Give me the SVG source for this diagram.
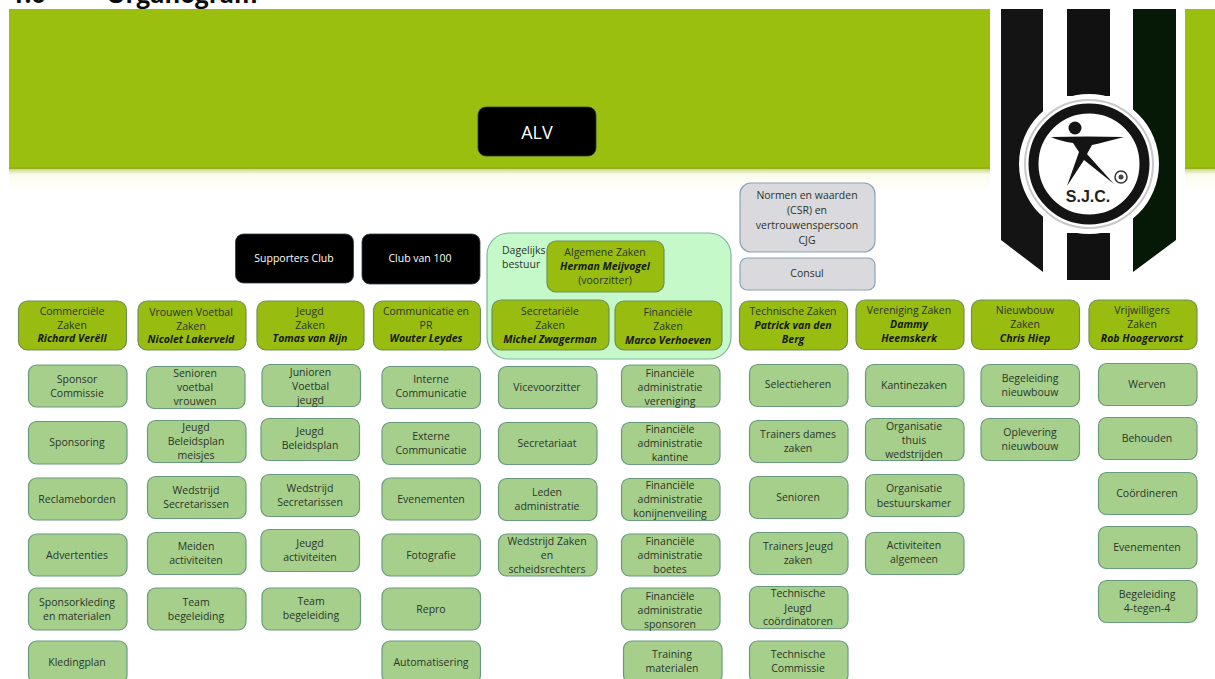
<svg xmlns="http://www.w3.org/2000/svg" width="1215" height="679" viewBox="0 0 1215 679">
<style>
text{font-family:"Open Sans","Noto Sans","Liberation Sans",sans-serif;font-size:10.5px;fill:#2a352a;text-anchor:middle}
.h{fill:#99BC10;stroke:#6f8f5c;stroke-width:1.2}
.s{fill:#A6CF8C;stroke:#6a9a7e;stroke-width:1.2}
.k{fill:#000;stroke:#2c3a48;stroke-width:.8}
.g{fill:#D9D9DE;stroke:#8aa3b5;stroke-width:1.2}
.n{font-weight:700;font-style:italic;fill:#141a10}
.t{font-size:24px;font-weight:700;fill:#0a0a0a}
</style>
<defs>
<linearGradient id="fade" x1="0" y1="0" x2="0" y2="1"><stop offset="0" stop-color="#c9d98a"/><stop offset=".25" stop-color="#fbfcec"/><stop offset="1" stop-color="#fff"/></linearGradient>
</defs>
<text id="title-num" class="t" x="28" y="3">1.6</text>
<text id="title" class="t" x="182" y="3">Organogram</text>
<g id="banner">
<rect x="9" y="9" width="981" height="159" fill="#9ABF0F"/>
<rect x="1185" y="9" width="30" height="159" fill="#9ABF0F"/>
<rect x="9" y="167" width="981" height="2" fill="#96AE1E"/>
<rect x="1185" y="167" width="30" height="2" fill="#96AE1E"/>
<rect x="9" y="169" width="981" height="22" fill="url(#fade)"/>
<rect x="1185" y="169" width="30" height="22" fill="url(#fade)"/>
</g>
<g id="logo">
<path d="M1001 9H1043V272L1001 240Z" fill="#141414"/>
<path d="M1067 9H1110V96H1067Z" fill="#111"/>
<path d="M1067 233H1110V280H1067Z" fill="#111"/>
<path d="M1133 9H1176V240L1133 272Z" fill="#061806"/>
<circle cx="1089" cy="164" r="70" fill="#fff"/>
<circle cx="1089" cy="164" r="64" fill="none" stroke="#c8c8c8" stroke-width="2"/>
<circle cx="1089" cy="164" r="55.500" fill="#fff" stroke="#141414" stroke-width="10"/>
<circle cx="1075" cy="128" r="6.500" fill="#141414"/>
<path d="M1051 137Q1088 136 1124 137Q1105 142 1092 145L1087 154L1114 184L1084 160L1067 186L1079 152L1073 143Q1060 141 1051 137Z" fill="#141414"/>
<circle cx="1121" cy="177" r="6" fill="#fff" stroke="#333" stroke-width="1.500"/>
<circle cx="1121" cy="177" r="2.500" fill="#444"/>
<text x="1088" y="202" style="font-family:'Liberation Sans',sans-serif;font-size:16px;font-weight:700;fill:#222">S.J.C.</text>
</g>
<g id="alv"><rect class="k" x="478" y="107" width="118" height="49" rx="8"/><text x="537" y="139" style="font-size:18px;fill:#fff">ALV</text></g>
<g id="supporters-club"><rect class="k" x="235.500" y="234" width="118" height="49" rx="8"/><text x="294" y="262" style="fill:#fff">Supporters Club</text></g>
<g id="club-van-100"><rect class="k" x="362" y="234" width="118" height="50" rx="8"/><text x="420" y="262" style="fill:#fff">Club van 100</text></g>
<g id="dagelijks-bestuur"><rect x="487" y="233" width="244" height="126" rx="22" fill="#C6F9C9" stroke="#7fb3a2" stroke-width="1.200"/><text x="502" y="254" style="text-anchor:start">Dagelijks<tspan x="502" dy="14">bestuur</tspan></text></g>
<g id="algemene-zaken"><rect class="h" x="547" y="241" width="117" height="51" rx="9"/><text x="605" y="256">Algemene Zaken</text><text class="n" x="605" y="270">Herman Meijvogel</text><text x="605" y="284">(voorzitter)</text></g>
<g id="normen"><rect class="g" x="740" y="183" width="135" height="69" rx="11"/><text x="807" y="199">Normen en waarden<tspan x="807" dy="15">(CSR) en</tspan><tspan x="807" dy="15">vertrouwenspersoon</tspan><tspan x="807" dy="15">CJG</tspan></text></g>
<g id="consul"><rect class="g" x="740" y="258" width="135" height="32" rx="7"/><text x="807" y="277">Consul</text></g>

<g id="commerciele-zaken"><rect class="h" x="18.500" y="301" width="108" height="49" rx="9"/><text x="72" y="315">Commerciële<tspan x="72" dy="14">Zaken</tspan></text><text class="n" x="72" y="342">Richard Verëll</text></g>
<g id="vrouwen-voetbal-zaken"><rect class="h" x="138" y="301" width="108" height="49" rx="9"/><text x="191" y="316">Vrouwen Voetbal<tspan x="191" dy="14">Zaken</tspan></text><text class="n" x="191" y="343">Nicolet Lakerveld</text></g>
<g id="jeugd-zaken"><rect class="h" x="257" y="301" width="107" height="49" rx="9"/><text x="310" y="315">Jeugd<tspan x="310" dy="14">Zaken</tspan></text><text class="n" x="310" y="342">Tomas van Rijn</text></g>
<g id="communicatie-pr"><rect class="h" x="373.500" y="301" width="107" height="49" rx="9"/><text x="426" y="315">Communicatie en<tspan x="426" dy="14">PR</tspan></text><text class="n" x="426" y="342">Wouter Leydes</text></g>
<g id="secretariele-zaken"><rect class="h" x="492" y="300" width="117" height="50" rx="9"/><text x="550" y="315">Secretariële<tspan x="550" dy="14">Zaken</tspan></text><text class="n" x="550" y="343">Michel Zwagerman</text></g>
<g id="financiele-zaken"><rect class="h" x="615" y="301" width="107" height="49" rx="9"/><text x="668" y="316">Financiële<tspan x="668" dy="14">Zaken</tspan></text><text class="n" x="668" y="344">Marco Verhoeven</text></g>
<g id="technische-zaken"><rect class="h" x="739.500" y="301" width="108" height="49" rx="9"/><text x="793" y="315">Technische Zaken</text><text class="n" x="793" y="329">Patrick van den<tspan x="793" dy="14">Berg</tspan></text></g>
<g id="vereniging-zaken"><rect class="h" x="856" y="300" width="108" height="49.500" rx="9"/><text x="909" y="314">Vereniging Zaken</text><text class="n" x="909" y="328">Dammy<tspan x="909" dy="14">Heemskerk</tspan></text></g>
<g id="nieuwbouw-zaken"><rect class="h" x="971.500" y="300" width="108" height="49.500" rx="9"/><text x="1025" y="314">Nieuwbouw<tspan x="1025" dy="14">Zaken</tspan></text><text class="n" x="1025" y="342">Chris Hiep</text></g>
<g id="vrijwilligers-zaken"><rect class="h" x="1089" y="300" width="108" height="49.500" rx="9"/><text x="1142" y="314">Vrijwilligers<tspan x="1142" dy="14">Zaken</tspan></text><text class="n" x="1142" y="342">Rob Hoogervorst</text></g>

<g id="c1-1"><rect class="s" x="28.500" y="365" width="98.500" height="42" rx="8"/><text x="77" y="383">Sponsor<tspan x="77" dy="14">Commissie</tspan></text></g>
<g id="c1-2"><rect class="s" x="28.500" y="421.500" width="98.500" height="42.500" rx="8"/><text x="77" y="446">Sponsoring</text></g>
<g id="c1-3"><rect class="s" x="28.500" y="478" width="98.500" height="42" rx="8"/><text x="77" y="503">Reclameborden</text></g>
<g id="c1-4"><rect class="s" x="28.500" y="534" width="98.500" height="42" rx="8"/><text x="77" y="559">Advertenties</text></g>
<g id="c1-5"><rect class="s" x="28.500" y="588" width="98.500" height="42" rx="8"/><text x="77" y="606">Sponsorkleding<tspan x="77" dy="14">en materialen</tspan></text></g>
<g id="c1-6"><rect class="s" x="28.500" y="641" width="98.500" height="42" rx="8"/><text x="77" y="666">Kledingplan</text></g>

<g id="c2-1"><rect class="s" x="146.500" y="366.500" width="98.500" height="42" rx="8"/><text x="195" y="377">Senioren<tspan x="195" dy="14">voetbal</tspan><tspan x="195" dy="13.500">vrouwen</tspan></text></g>
<g id="c2-2"><rect class="s" x="147.500" y="420.500" width="98.500" height="42" rx="8"/><text x="196" y="431">Jeugd<tspan x="196" dy="14">Beleidsplan</tspan><tspan x="196" dy="13.500">meisjes</tspan></text></g>
<g id="c2-3"><rect class="s" x="147.500" y="476.500" width="98.500" height="42" rx="8"/><text x="196" y="494">Wedstrijd<tspan x="196" dy="14">Secretarissen</tspan></text></g>
<g id="c2-4"><rect class="s" x="147.500" y="532.500" width="98.500" height="42" rx="8"/><text x="196" y="550">Meiden<tspan x="196" dy="14">activiteiten</tspan></text></g>
<g id="c2-5"><rect class="s" x="147.500" y="588" width="98.500" height="42" rx="8"/><text x="196" y="606">Team<tspan x="196" dy="14">begeleiding</tspan></text></g>

<g id="c3-1"><rect class="s" x="262" y="364.500" width="98.500" height="42" rx="8"/><text x="310.500" y="376">Junioren<tspan x="310.500" dy="14">Voetbal</tspan><tspan x="310.500" dy="13.500">jeugd</tspan></text></g>
<g id="c3-2"><rect class="s" x="261" y="418.500" width="98.500" height="42" rx="8"/><text x="310" y="435">Jeugd<tspan x="310" dy="14">Beleidsplan</tspan></text></g>
<g id="c3-3"><rect class="s" x="261" y="474.500" width="98.500" height="42" rx="8"/><text x="310" y="492">Wedstrijd<tspan x="310" dy="14">Secretarissen</tspan></text></g>
<g id="c3-4"><rect class="s" x="261" y="529.500" width="98.500" height="42" rx="8"/><text x="310" y="547">Jeugd<tspan x="310" dy="14">activiteiten</tspan></text></g>
<g id="c3-5"><rect class="s" x="262" y="588" width="98.500" height="42" rx="8"/><text x="311" y="605">Team<tspan x="311" dy="14">begeleiding</tspan></text></g>

<g id="c4-1"><rect class="s" x="382" y="366.500" width="98.500" height="42" rx="8"/><text x="431" y="383">Interne<tspan x="431" dy="14">Communicatie</tspan></text></g>
<g id="c4-2"><rect class="s" x="382" y="422.500" width="98.500" height="42" rx="8"/><text x="431" y="440">Externe<tspan x="431" dy="14">Communicatie</tspan></text></g>
<g id="c4-3"><rect class="s" x="382" y="478" width="98.500" height="42" rx="8"/><text x="431" y="503">Evenementen</text></g>
<g id="c4-4"><rect class="s" x="382" y="534" width="98.500" height="42" rx="8"/><text x="431" y="559">Fotografie</text></g>
<g id="c4-5"><rect class="s" x="382" y="588" width="98.500" height="42" rx="8"/><text x="431" y="613">Repro</text></g>
<g id="c4-6"><rect class="s" x="382" y="641" width="98.500" height="42" rx="8"/><text x="431" y="666">Automatisering</text></g>

<g id="c5-1"><rect class="s" x="498.500" y="366.500" width="98.500" height="42" rx="8"/><text x="547" y="391">Vicevoorzitter</text></g>
<g id="c5-2"><rect class="s" x="498.500" y="422.500" width="98.500" height="42" rx="8"/><text x="547" y="447">Secretariaat</text></g>
<g id="c5-3"><rect class="s" x="498.500" y="478.500" width="98.500" height="42" rx="8"/><text x="547" y="496">Leden<tspan x="547" dy="14">administratie</tspan></text></g>
<g id="c5-4"><rect class="s" x="498.500" y="534" width="98.500" height="42" rx="8"/><text x="547" y="545">Wedstrijd Zaken<tspan x="547" dy="14">en</tspan><tspan x="547" dy="13.500">scheidsrechters</tspan></text></g>

<g id="c6-1"><rect class="s" x="621.500" y="365" width="98.500" height="42" rx="8"/><text x="670" y="377">Financiële<tspan x="670" dy="14">administratie</tspan><tspan x="670" dy="13.500">vereniging</tspan></text></g>
<g id="c6-2"><rect class="s" x="621.500" y="422.500" width="98.500" height="42" rx="8"/><text x="670" y="433">Financiële<tspan x="670" dy="14">administratie</tspan><tspan x="670" dy="13.500">kantine</tspan></text></g>
<g id="c6-3"><rect class="s" x="621.500" y="478.500" width="98.500" height="42" rx="8"/><text x="670" y="489">Financiële<tspan x="670" dy="14">administratie</tspan><tspan x="670" dy="13.500">konijnenveiling</tspan></text></g>
<g id="c6-4"><rect class="s" x="621.500" y="534" width="98.500" height="42" rx="8"/><text x="670" y="545">Financiële<tspan x="670" dy="14">administratie</tspan><tspan x="670" dy="13.500">boetes</tspan></text></g>
<g id="c6-5"><rect class="s" x="621.500" y="588" width="98.500" height="42" rx="8"/><text x="670" y="600">Financiële<tspan x="670" dy="14">administratie</tspan><tspan x="670" dy="13.500">sponsoren</tspan></text></g>
<g id="c6-6"><rect class="s" x="623.500" y="641" width="98.500" height="42" rx="8"/><text x="672" y="658">Training<tspan x="672" dy="14">materialen</tspan></text></g>

<g id="c7-1"><rect class="s" x="749.500" y="364.500" width="98.500" height="42" rx="8"/><text x="798" y="388">Selectieheren</text></g>
<g id="c7-2"><rect class="s" x="749.500" y="420.500" width="98.500" height="42" rx="8"/><text x="798" y="438">Trainers dames<tspan x="798" dy="14">zaken</tspan></text></g>
<g id="c7-3"><rect class="s" x="749.500" y="476.500" width="98.500" height="42" rx="8"/><text x="798" y="501">Senioren</text></g>
<g id="c7-4"><rect class="s" x="749.500" y="532.500" width="98.500" height="42" rx="8"/><text x="798" y="550">Trainers Jeugd<tspan x="798" dy="14">zaken</tspan></text></g>
<g id="c7-5"><rect class="s" x="749.500" y="586.500" width="98.500" height="42" rx="8"/><text x="798" y="597">Technische<tspan x="798" dy="14.500">Jeugd</tspan><tspan x="798" dy="13.500">coördinatoren</tspan></text></g>
<g id="c7-6"><rect class="s" x="749.500" y="641" width="98.500" height="42" rx="8"/><text x="798" y="658">Technische<tspan x="798" dy="14">Commissie</tspan></text></g>

<g id="c8-1"><rect class="s" x="865.500" y="364.500" width="98.500" height="42" rx="8"/><text x="914" y="389">Kantinezaken</text></g>
<g id="c8-2"><rect class="s" x="865.500" y="418.500" width="98.500" height="42" rx="8"/><text x="914" y="430">Organisatie<tspan x="914" dy="14">thuis</tspan><tspan x="914" dy="13.500">wedstrijden</tspan></text></g>
<g id="c8-3"><rect class="s" x="865.500" y="474.500" width="98.500" height="42" rx="8"/><text x="914" y="492">Organisatie<tspan x="914" dy="14.500">bestuurskamer</tspan></text></g>
<g id="c8-4"><rect class="s" x="865.500" y="532.500" width="98.500" height="42" rx="8"/><text x="914" y="549">Activiteiten<tspan x="914" dy="14">algemeen</tspan></text></g>

<g id="c9-1"><rect class="s" x="981" y="364.500" width="98.500" height="42" rx="8"/><text x="1030" y="382">Begeleiding<tspan x="1030" dy="14">nieuwbouw</tspan></text></g>
<g id="c9-2"><rect class="s" x="981" y="418.500" width="98.500" height="42" rx="8"/><text x="1030" y="436">Oplevering<tspan x="1030" dy="14">nieuwbouw</tspan></text></g>

<g id="c10-1"><rect class="s" x="1098.500" y="363.500" width="98.500" height="42" rx="8"/><text x="1147" y="388">Werven</text></g>
<g id="c10-2"><rect class="s" x="1098.500" y="417.500" width="98.500" height="42" rx="8"/><text x="1147" y="442">Behouden</text></g>
<g id="c10-3"><rect class="s" x="1098.500" y="472.500" width="98.500" height="42" rx="8"/><text x="1147" y="497">Coördineren</text></g>
<g id="c10-4"><rect class="s" x="1098.500" y="526.500" width="98.500" height="42" rx="8"/><text x="1147" y="551">Evenementen</text></g>
<g id="c10-5"><rect class="s" x="1098.500" y="580.500" width="98.500" height="42" rx="8"/><text x="1147" y="598">Begeleiding<tspan x="1147" dy="14">4-tegen-4</tspan></text></g>
</svg>
